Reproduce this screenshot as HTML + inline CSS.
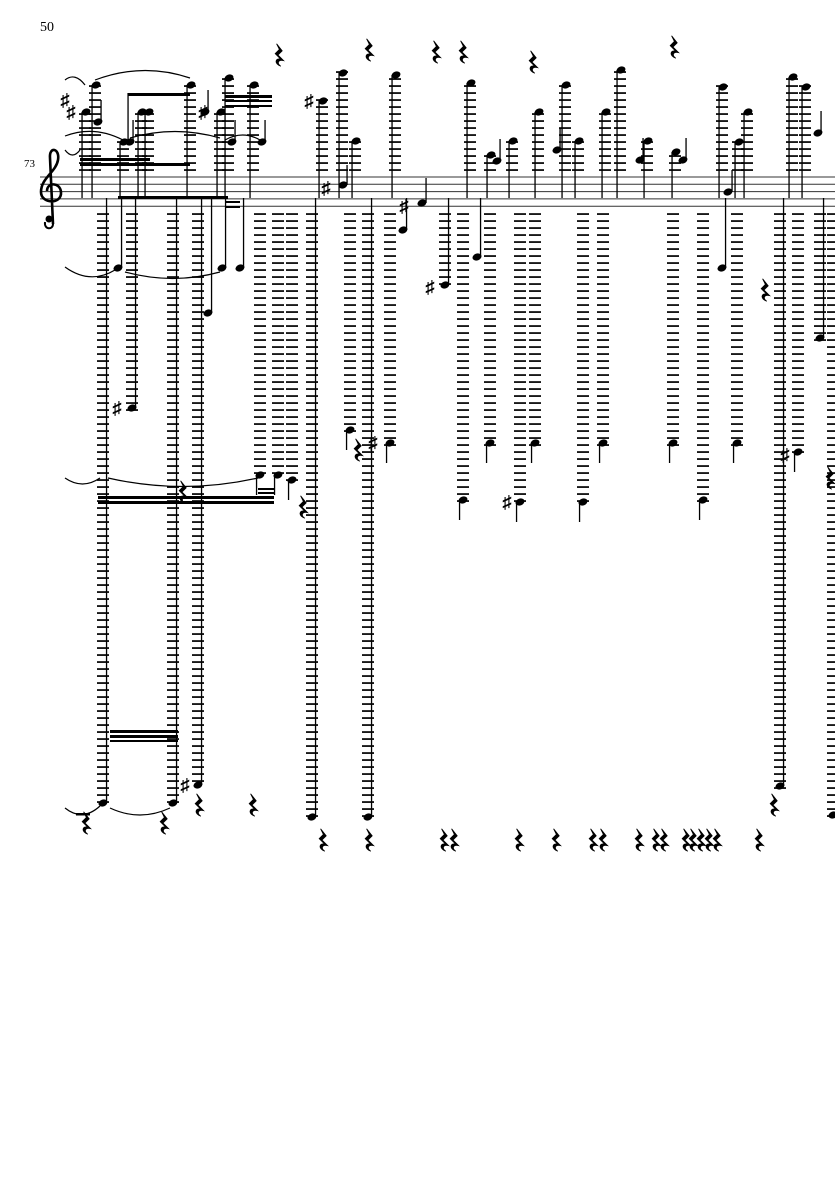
<!DOCTYPE html>
<html><head><meta charset="utf-8">
<style>
html,body{margin:0;padding:0;background:#fff;}
svg{display:block;}
text{font-family:"Liberation Serif",serif;fill:#000;}
</style></head>
<body>
<svg id="s" width="835" height="1181" viewBox="0 0 835 1181" xmlns="http://www.w3.org/2000/svg">
<text x="40" y="31" font-size="14">50</text>
<text x="24" y="167" font-size="11">73</text>
<g id="g"></g>
</svg>
<script>
var g=document.getElementById('g'),o='';
var SP=7.3,T=177,B=T+4*SP;
for(var i=0;i<5;i++){var y=T+i*SP;o+='<line x1="40" x2="835" y1="'+y+'" y2="'+y+'" stroke="#333" stroke-width="1"/>';}
// clef
o+='<path d="M53 224 L50 158 C49 146 60 148 58 160 C56 172 41 178 41 192 C41 204 62 205 61 192 C60 182 47 182 47 191" fill="none" stroke="#000" stroke-width="2.6"/><circle cx="49" cy="219" r="3.5"/><path d="M53 224 C53 230 44 230 45 222" fill="none" stroke="#000" stroke-width="2"/>';
function ledg(x,y){o+='<rect x="'+(x-6)+'" y="'+(y-0.8)+'" width="12" height="1.7" fill="#000"/>';}
function head(x,y){o+='<ellipse cx="'+x+'" cy="'+y+'" rx="4.6" ry="3.4" transform="rotate(-20 '+x+' '+y+')"/>';}
function stem(x,y1,y2){o+='<rect x="'+(x-0.6)+'" y="'+Math.min(y1,y2)+'" width="1.3" height="'+Math.abs(y2-y1)+'" fill="#000"/>';}
function sharp(x,y){o+='<text x="'+(x-7)+'" y="'+(y+6)+'" font-size="18" font-weight="bold" text-anchor="middle" font-family="DejaVu Sans">♯</text>';}
function rest(x,y){o+='<path transform="translate('+x+' '+y+') scale(1.4) translate('+(-x)+' '+(-y)+')" d="M'+(x-1)+' '+(y-8)+' l4 5 l-3 3 l4 4 c-4 -1 -5 2 -2 4 c-5 -2 -4 -6 0 -5 l-4 -4 l3 -3z" fill="#000" stroke="#000" stroke-width="0.6"/>';}
var up=[[85,112],[95,85],[123,142],[141,112],[148,112],[190,85],[220,112],[228,78],[253,85],[322,101],[342,73],[355,141],[395,75],[470,83],[490,155],[512,141],[538,112],[565,85],[578,141],[605,112],[620,70],[647,141],[675,152],[722,87],[738,142],[747,112],[792,77],[805,87]];
up.forEach(function(c){for(var y=170;y>=c[1]-2;y-=7)ledg(c[0],y);head(c[0]+1,c[1]);stem(c[0]-3,c[1],198);});
[[98,122],[130,142],[205,112],[232,142],[262,142],[497,161],[557,150],[640,160],[683,160],[818,133]].forEach(function(n){head(n[0],n[1]);stem(n[0]+3,n[1],n[1]-22);});
sharp(78,112);sharp(72,100);sharp(210,112);sharp(316,101);
head(343,185);sharp(333,188);stem(347,185,165);
head(422,203);sharp(411,206);stem(426,203,178);
head(728,192);stem(732,192,170);
var dn=[[103,803],[132,408],[173,803],[198,785],[260,475],[278,475],[292,480],[312,817],[350,430],[368,817],[390,443],[445,285],[463,500],[490,443],[520,502],[535,443],[583,502],[603,443],[673,443],[703,500],[737,443],[780,786],[798,452],[820,338],[833,815]];
dn.forEach(function(c){for(var y=214;y<=c[1]+2;y+=7)ledg(c[0],y);head(c[0],c[1]);
 if(c[1]>700||c[1]<420)stem(c[0]+3.5,c[1],198);else stem(c[0]-3.5,c[1],c[1]+20);});
[[118,268],[222,268],[240,268],[208,313],[403,230],[477,257],[722,268]].forEach(function(n){head(n[0],n[1]);stem(n[0]+3.5,n[1],198);});
sharp(124,408);sharp(192,785);sharp(380,443);sharp(437,287);sharp(514,502);sharp(792,455);
function beam(x1,y1,x2,y2,h){o+='<polygon points="'+x1+','+y1+' '+x2+','+y2+' '+x2+','+(y2+h)+' '+x1+','+(y1+h)+'" fill="#000"/>';}
beam(128,93,190,93,3);stem(128,93,142);
beam(80,163,190,163,3);beam(80,158,150,158,3);
beam(225,95,272,95,3);beam(225,100,272,100,2);beam(225,105,272,105,2);
beam(118,196,228,196,3);beam(225,201,240,201,2);beam(225,206,240,206,2);
beam(98,496,274,496,3);beam(98,501,274,501,3);beam(258,488,274,488,2);beam(258,492,274,492,2);
beam(110,730,178,730,3);beam(110,735,178,735,3);beam(110,740,178,740,2);
function arc(x1,y1,x2,y2,c){o+='<path d="M'+x1+' '+y1+' Q'+((x1+x2)/2)+' '+c+' '+x2+' '+y2+'" fill="none" stroke="#000" stroke-width="1.2"/>';}
arc(95,80,190,78,62);arc(65,80,85,85,72);arc(65,136,123,140,125);arc(130,138,220,138,125);
arc(65,267,115,270,285);arc(125,272,220,272,285);arc(65,478,100,478,490);arc(108,478,258,478,495);
arc(65,808,100,806,822);arc(110,808,170,808,822);arc(225,140,260,140,130);arc(65,150,80,150,160);
[[278,55],[368,50],[435,52],[462,52],[532,62],[673,47],[322,840],[368,840],[443,840],[453,840],[518,840],[555,840],[592,840],[602,840],[638,840],[655,840],[663,840],[685,840],[692,840],[700,840],[708,840],[716,840],[758,840],[198,805],[252,805],[773,805],[85,823],[163,823],[182,492],[302,507],[357,450],[764,290],[829,478]].forEach(function(r){rest(r[0],r[1]);});
o+='<rect x="76" y="813" width="14" height="2.5" fill="#000"/>';
g.innerHTML=o;
</script>
</body></html>
